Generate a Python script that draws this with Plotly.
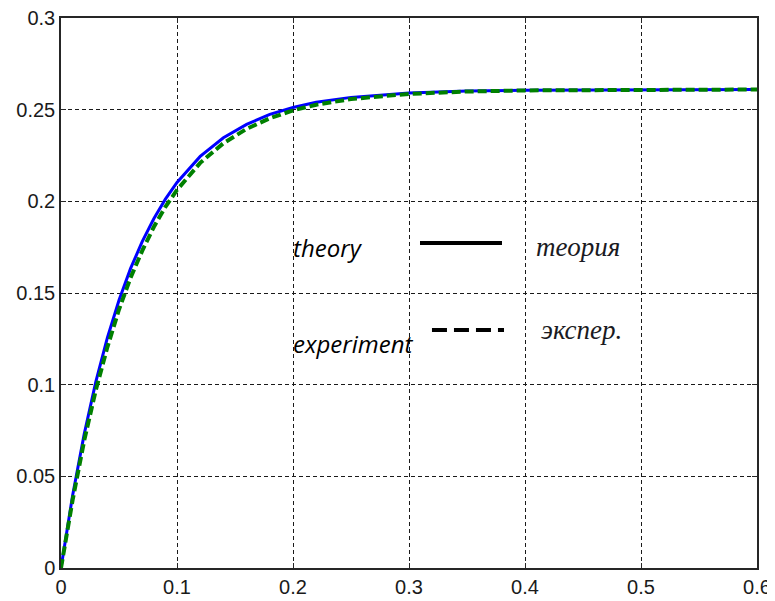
import plotly.graph_objects as go

# data
t = [0, 0.01, 0.02, 0.03, 0.04, 0.05, 0.06, 0.07, 0.08, 0.09, 0.10, 0.12, 0.14,
     0.16, 0.18, 0.20, 0.22, 0.25, 0.30, 0.35, 0.40, 0.50, 0.60]
theory = [0, 0.0395, 0.073, 0.1015, 0.1256, 0.146, 0.1634, 0.178, 0.1905, 0.2012,
          0.2103, 0.2245, 0.2347, 0.242, 0.2474, 0.2512, 0.254, 0.2567, 0.2591,
          0.2602, 0.2606, 0.261, 0.261]
experiment = [0, 0.037, 0.0695, 0.097, 0.1205, 0.141, 0.1584, 0.173, 0.186, 0.197,
              0.2062, 0.221, 0.2317, 0.2395, 0.2453, 0.2496, 0.2527, 0.2558, 0.2586,
              0.2599, 0.2605, 0.2609, 0.261]

x_ticks = [0, 0.1, 0.2, 0.3, 0.4, 0.5, 0.6]
x_labels = ["0", "0.1", "0.2", "0.3", "0.4", "0.5", "0.6"]
y_ticks = [0, 0.05, 0.1, 0.15, 0.2, 0.25, 0.3]
y_labels = ["0", "0.05", "0.1", "0.15", "0.2", "0.25", "0.3"]

fig = go.Figure()
fig.add_trace(go.Scatter(x=t, y=theory, mode="lines", line=dict(color="#0000ff", width=3),
                         showlegend=False, hoverinfo="skip", cliponaxis=False))
fig.add_trace(go.Scatter(x=t, y=experiment, mode="lines",
                         line=dict(color="#008000", width=4, dash="9px,4px"),
                         showlegend=False, hoverinfo="skip", cliponaxis=False))

# hand-drawn legend inside the plot (paper coordinates)
fig.add_shape(type="line", xref="paper", yref="paper", x0=0.5158, x1=0.6336, y0=0.5909, y1=0.5909,
              line=dict(color="black", width=4))
fig.add_shape(type="line", xref="paper", yref="paper", x0=0.5330, x1=0.6365, y0=0.4327, y1=0.4327,
              line=dict(color="black", width=4, dash="15px,7px"))

sans_it = dict(family="Open Sans", size=24, color="black", style="italic")
serif_it = dict(family="Liberation Serif", size=27, color="#1a1a22", style="italic")
fig.add_annotation(xref="paper", yref="paper", x=0.3305, y=0.5836, text="theory",
                   showarrow=False, xanchor="left", yanchor="middle", font=sans_it)
fig.add_annotation(xref="paper", yref="paper", x=0.3305, y=0.4082, text="experiment",
                   showarrow=False, xanchor="left", yanchor="middle", font=sans_it)
fig.add_annotation(xref="paper", yref="paper", x=0.6796, y=0.5836, text="теория",
                   showarrow=False, xanchor="left", yanchor="middle", font=serif_it)
fig.add_annotation(xref="paper", yref="paper", x=0.6868, y=0.4327, text="экспер.",
                   showarrow=False, xanchor="left", yanchor="middle", font=serif_it)

axis_common = dict(showline=True, linecolor="#262626", linewidth=1.5, mirror="ticks",
                   showgrid=True, gridcolor="#1a1a1a", gridwidth=1, griddash="4px,3px",
                   zeroline=False, ticks="inside", ticklen=5, tickcolor="#262626",
                   automargin=False, ticklabeloverflow="allow",
                   tickfont=dict(family="Liberation Sans", size=20, color="#1a1a1a"))

fig.update_xaxes(range=[0, 0.6], tickvals=x_ticks, ticktext=x_labels, **axis_common)
fig.update_yaxes(range=[0, 0.3], tickvals=y_ticks, ticktext=y_labels, **axis_common)

# page body has an 8px margin, so the figure is shrunk/shifted to compensate
fig.update_layout(width=767, height=593, margin=dict(l=53, r=18, t=10, b=33, autoexpand=False),
                  plot_bgcolor="white", paper_bgcolor="white", showlegend=False)

fig.write_html("out.html")
